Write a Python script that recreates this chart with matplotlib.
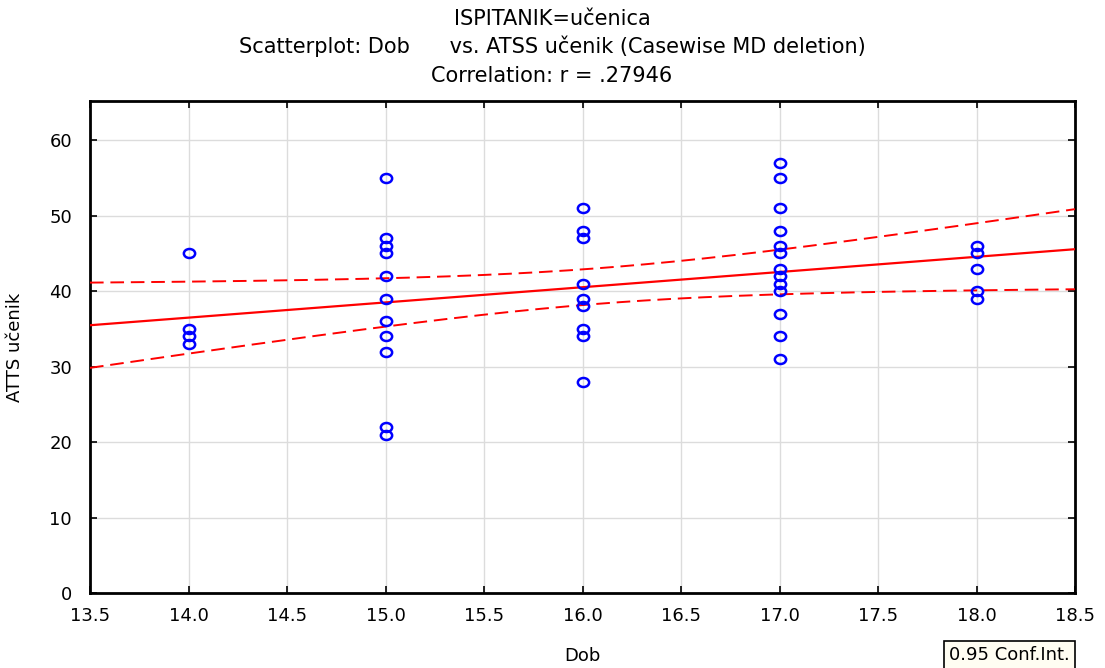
import matplotlib
matplotlib.use("Agg")
import matplotlib.pyplot as plt
import numpy as np
from matplotlib.markers import MarkerStyle
from matplotlib.transforms import Affine2D

# Age (Dob) groups and ATSS scores
AGES = [14, 15, 16, 17, 18]
SCORES = {
    14: [45, 35, 34, 33],
    15: [55, 47, 46, 45, 42, 39, 36, 34, 32, 22, 21],
    16: [51, 48, 47, 41, 39, 38, 35, 34, 28],
    17: [57, 55, 51, 48, 46, 45, 43, 42, 41, 40, 37, 34, 31],
    18: [46, 45, 43, 40, 39],
}
X_TICKS = [13.5, 14.0, 14.5, 15.0, 15.5, 16.0, 16.5, 17.0, 17.5, 18.0, 18.5]
Y_TICKS = [0, 10, 20, 30, 40, 50, 60]

plt.rcParams["font.family"] = ["DejaVu Sans"]

x = np.concatenate([[a] * len(SCORES[a]) for a in AGES]).astype(float)
y = np.concatenate([SCORES[a] for a in AGES]).astype(float)

n = len(x)
slope, intercept = np.polyfit(x, y, 1)
resid = y - (intercept + slope * x)
s = np.sqrt(np.sum(resid ** 2) / (n - 2))
t_crit = 1.96
xs = np.linspace(13.5, 18.5, 200)
fit = intercept + slope * xs
se = s * np.sqrt(1 / n + (xs - x.mean()) ** 2 / np.sum((x - x.mean()) ** 2))

fig = plt.figure(figsize=(11.05, 6.68), dpi=100)
ax = fig.add_axes([90 / 1105, 1 - 593 / 668, (1075 - 90) / 1105, (593 - 101) / 668])

ellipse = MarkerStyle("o", transform=Affine2D().scale(1.25, 1.0))
ax.plot(x, y, linestyle="none", marker=ellipse, markersize=6.5, markerfacecolor="none",
        markeredgecolor="#0000ff", markeredgewidth=1.8, zorder=4)
ax.plot(xs, fit, color="#ff0000", linewidth=1.6, zorder=3)
ax.plot(xs, fit + t_crit * se, color="#ff0000", linewidth=1.4, linestyle=(0, (7, 3.5)), zorder=3)
ax.plot(xs, fit - t_crit * se, color="#ff0000", linewidth=1.4, linestyle=(0, (7, 3.5)), zorder=3)

ax.set_xlim(13.5, 18.5)
ax.set_ylim(0, 65.2)
ax.set_xticks(X_TICKS)
ax.set_xticklabels([f"{v:.1f}" for v in X_TICKS], fontsize=13)
ax.set_yticks(Y_TICKS)
ax.set_yticklabels([str(v) for v in Y_TICKS], fontsize=13)
ax.tick_params(direction="in", length=5, width=1.2, top=True, right=True, pad=10)
ax.tick_params(axis="y", pad=13)
ax.grid(color="#dcdcdc", linewidth=1.0)
ax.set_axisbelow(True)
for sp in ax.spines.values():
    sp.set_linewidth(2)
    sp.set_color("black")

ax.set_xlabel("Dob", fontsize=13, labelpad=16)
ax.set_ylabel("ATTS učenik", fontsize=13, labelpad=18)

fig.text(552 / 1105, 1 - 19 / 668, "ISPITANIK=učenica", ha="center", va="center", fontsize=15)
fig.text(552 / 1105, 1 - 46 / 668, "Scatterplot: Dob      vs. ATSS učenik (Casewise MD deletion)",
         ha="center", va="center", fontsize=15)
fig.text(552 / 1105, 1 - 76 / 668, "Correlation: r = .27946", ha="center", va="center", fontsize=15)

fig.text(949 / 1105, 1 - 655 / 668, "0.95 Conf.Int.", ha="left", va="center", fontsize=13,
         bbox=dict(boxstyle="square,pad=0.3", facecolor="#fffdf2", edgecolor="black", linewidth=1.2))

r = np.corrcoef(x, y)[0, 1]
print(f"r = {r:.5f}, slope = {slope:.3f}, intercept = {intercept:.3f}")

fig.savefig("out.png", dpi=100)
